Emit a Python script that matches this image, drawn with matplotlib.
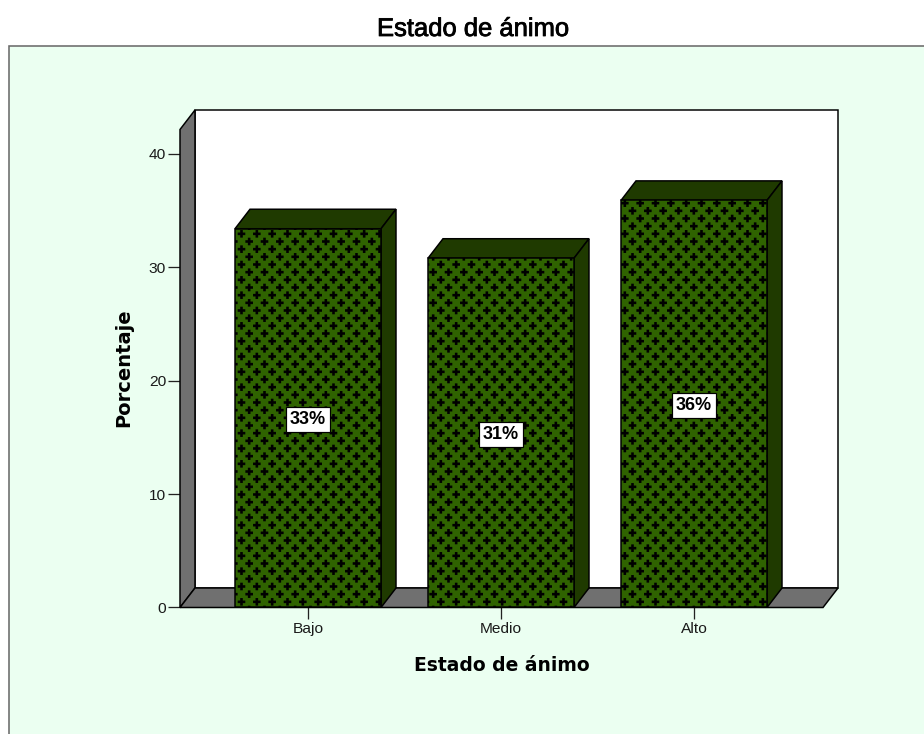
import numpy as np
import matplotlib
matplotlib.use("Agg")
import matplotlib.pyplot as plt
import matplotlib.patheffects as pe
from matplotlib import hatch as mhatch
from matplotlib.path import Path
from matplotlib.patches import Polygon, Rectangle

categories = ["Bajo", "Medio", "Alto"]
percent = [33.4, 30.8, 35.9]
labels = ["33%", "31%", "36%"]
y_ticks = [0, 10, 20, 30, 40]

W, H, DPI = 924, 734, 92.4
PT = 72 / DPI  # points per pixel


class CrossHatch(mhatch.HatchPatternBase):
    """Staggered plus-shaped marks: 6 columns and 12 rows per tile."""
    filled = True

    def __init__(self, hatch, density):
        self.active = "+" in hatch
        self.rows = [(r, c) for r in range(12) for c in range(6)]
        self.num_vertices = 13 * len(self.rows) if self.active else 0

    def set_vertices_and_codes(self, vertices, codes):
        a, b = 1.3 / 92.0, 3.8 / 92.0
        shape = np.array([(-a, -b), (a, -b), (a, -a), (b, -a), (b, a), (a, a),
                          (a, b), (-a, b), (-a, a), (-b, a), (-b, -a), (-a, -a),
                          (-a, -b)])
        c = [Path.MOVETO] + [Path.LINETO] * 11 + [Path.CLOSEPOLY]
        for i, (r, col) in enumerate(self.rows):
            cx = (col + (0.25 if r % 2 == 0 else 0.75)) / 6
            cy = (r + 0.5) / 12
            vertices[i * 13:(i + 1) * 13] = shape + (cx, cy)
            codes[i * 13:(i + 1) * 13] = c


mhatch._hatch_types[:] = [CrossHatch]
plt.rcParams["hatch.linewidth"] = 0.0
plt.rcParams["font.family"] = "Liberation Sans"

fig = plt.figure(figsize=(W / DPI, (H + 0.01) / DPI), dpi=DPI, facecolor="white")

# outer panel
fig.add_artist(Rectangle((9 / W, -0.02), 1.0, 1 - 46 / H + 0.02, transform=fig.transFigure,
                         facecolor="#EBFFF1", edgecolor="#6b6b6b", linewidth=1.6 * PT, zorder=-5))

ax = fig.add_axes([180 / W, 1 - 607.5 / H, (838 - 180) / W, (607.5 - 110) / H])
ax.patch.set_visible(False)
for s in ax.spines.values():
    s.set_visible(False)

unit_x = 193.0                     # pixels per category
unit_y = 11.34                     # pixels per percent
ax.set_xlim(-(308 - 180) / unit_x, (838 - 308) / unit_x)
ax.set_ylim(0, (607.5 - 110) / unit_y)
x0, x1 = ax.get_xlim()
y1 = ax.get_ylim()[1]
dx, dy = 15 / unit_x, 19.5 / unit_y
front_right = x1 - dx
EDGE = dict(edgecolor="black", linewidth=1.5 * PT, joinstyle="miter", clip_on=False)

# back wall, side wall, floor
ax.add_patch(Polygon([(x0 + dx, dy), (x1, dy), (x1, y1), (x0 + dx, y1)], facecolor="white", zorder=1, **EDGE))
ax.add_patch(Polygon([(x0, 0), (x0 + dx, dy), (x0 + dx, y1), (x0, y1 - dy)], facecolor="#707070", zorder=2, **EDGE))
ax.add_patch(Polygon([(x0, 0), (front_right, 0), (x1, dy), (x0 + dx, dy)], facecolor="#707070", zorder=2, **EDGE))

# bars
xs = np.arange(len(categories))
bw = 146 / unit_x
ax.bar(xs, percent, width=bw, facecolor="#2F6300", hatch="+", zorder=4, **EDGE)
for x, v, lab in zip(xs, percent, labels):
    l, r = x - bw / 2, x + bw / 2
    ax.add_patch(Polygon([(l, v), (r, v), (r + dx, v + dy), (l + dx, v + dy)],
                         facecolor="#1F3A00", zorder=3, **EDGE))
    ax.add_patch(Polygon([(r, 0), (r + dx, dy), (r + dx, v + dy), (r, v)],
                         facecolor="#1F3A00", zorder=3, **EDGE))
    ax.text(x, v / 2 - 0.15, lab, ha="center", va="center", zorder=6, fontsize=18 * PT,
            fontweight="bold", color="black",
            bbox=dict(boxstyle="square,pad=0.22", facecolor="white", edgecolor="black", linewidth=1.2 * PT))

ax.set_xticks(xs, categories)
ax.set_yticks(y_ticks)
ax.tick_params(axis="both", length=12 * PT, width=1.3 * PT, color="#222222", labelsize=15.5 * PT,
               labelcolor="#1a1a1a", pad=2 * PT)
ax.tick_params(axis="x", pad=2 * PT)

fig.text(473.5 / W, 1 - 29 / H, "Estado de ánimo", ha="center", va="center",
         fontsize=25.6 * PT, color="black",
         path_effects=[pe.withStroke(linewidth=0.8 * PT, foreground="black")])
fig.text(501.5 / W, 1 - 665 / H, "Estado de ánimo", ha="center", va="center",
         fontsize=18.8 * PT, fontweight="bold", color="black", family="DejaVu Sans")
fig.text(124 / W, 1 - 368 / H, "Porcentaje", ha="center", va="center", rotation=90,
         fontsize=19.5 * PT, fontweight="bold", color="black", family="DejaVu Sans")

fig.savefig("out.png", dpi=DPI)
